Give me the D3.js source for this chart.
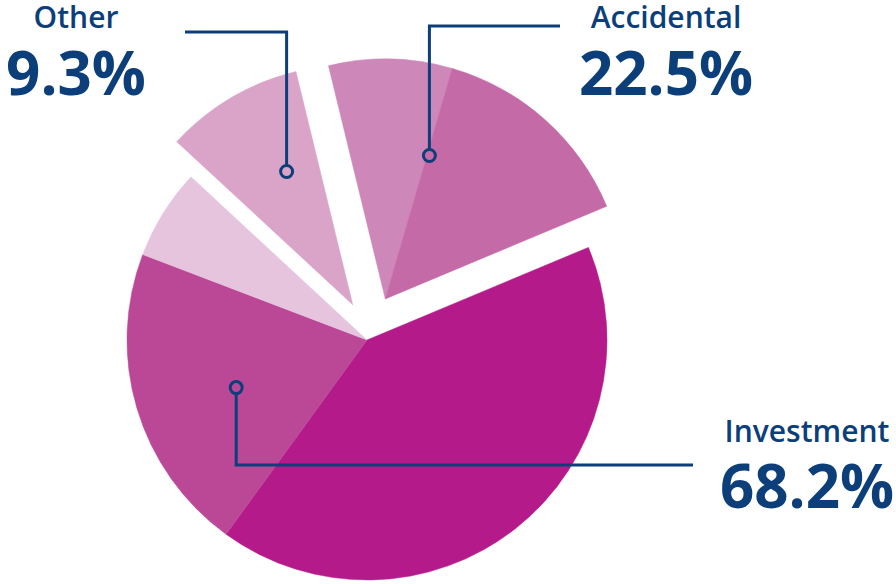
<!DOCTYPE html>
<html>
<head>
<meta charset="utf-8">
<script src="https://cdn.jsdelivr.net/npm/d3@7"></script>
<style>
  html, body { margin: 0; padding: 0; background: #ffffff; }
  svg { display: block; }
</style>
</head>
<body>
<svg id="chart" width="896" height="584"></svg>
<script>
// ---- data ----
const sliceNames  = ["Accidental A", "Accidental B", "Investment A", "Investment B", "Investment C", "Other"];
const sliceGroups = ["Accidental", "Accidental", "Investment", "Investment", "Investment", "Other"];
const sliceValues = [8.3, 14.2, 41.3, 20.8, 6.1, 9.3];
const groupNames  = ["Other", "Accidental", "Investment"];
const groupLabels = ["9.3%", "22.5%", "68.2%"];

// ---- style / layout ----
const W = 896, H = 584;
const cx = 367, cy = 340, R = 240;
const colors = ["#ce87b9", "#c46aa6", "#b51a8a", "#bb4897", "#e7c4de", "#d9a4c8"];
const navy = "#0c3f7a";
const startDeg = -13.7;
const explode = { Other: { angle: 338, dist: 38 }, Accidental: { angle: 24, dist: 45 }, Investment: { angle: 0, dist: 0 } };
// leader anchor (angle deg, radius fraction) relative to group's own center; slice index under the dot
const anchors = {
  Other:      { angle: 333.6, r: 0.62,  slice: 5, elbowY: 32,  endX: 185, textX: 76,  nameY: 28,  pctY: 95 },
  Accidental: { angle: 17.1,  r: 0.625, slice: 1, elbowY: 26,  endX: 560, textX: 666, nameY: 28,  pctY: 95 },
  Investment: { angle: 250,   r: 0.58,  slice: 3, elbowY: 465, endX: 693, textX: 807, nameY: 442, pctY: 508 }
};

const svg = d3.select("#chart");
const rad = d => d * Math.PI / 180;
function offset(g) {
  const e = explode[g];
  return [e.dist * Math.sin(rad(e.angle)), -e.dist * Math.cos(rad(e.angle))];
}

const pie = d3.pie().sort(null).value(d => d.v)
  .startAngle(rad(startDeg)).endAngle(rad(startDeg) + 2 * Math.PI);
const data = sliceValues.map((v, i) => ({ v, name: sliceNames[i], group: sliceGroups[i], color: colors[i] }));
const arcs = pie(data);
const arc = d3.arc().innerRadius(0).outerRadius(R);

svg.append("g").selectAll("path").data(arcs).join("path")
  .attr("transform", d => { const o = offset(d.data.group); return `translate(${cx + o[0]},${cy + o[1]})`; })
  .attr("d", arc)
  .attr("fill", d => d.data.color)
  .attr("stroke", d => d.data.color)
  .attr("stroke-width", 0.5);

// leaders and labels
const lg = svg.append("g");
groupNames.forEach((g, i) => {
  const a = anchors[g];
  const o = offset(g);
  const px = cx + o[0] + a.r * R * Math.sin(rad(a.angle));
  const py = cy + o[1] - a.r * R * Math.cos(rad(a.angle));
  lg.append("path")
    .attr("d", `M${a.endX},${a.elbowY} H${px} V${py}`)
    .attr("fill", "none").attr("stroke", navy).attr("stroke-width", 3);
  lg.append("circle").attr("cx", px).attr("cy", py).attr("r", 6)
    .attr("fill", colors[a.slice])
    .attr("stroke", navy).attr("stroke-width", 3);
  lg.append("text").attr("x", a.textX).attr("y", a.nameY)
    .attr("text-anchor", "middle")
    .attr("font-family", "'Open Sans', sans-serif").attr("font-weight", 600)
    .attr("font-size", 30).attr("fill", navy).text(g);
  lg.append("text").attr("x", a.textX).attr("y", a.pctY)
    .attr("text-anchor", "middle")
    .attr("font-family", "'Open Sans', sans-serif").attr("font-weight", 700)
    .attr("font-size", 60).attr("fill", navy).text(groupLabels[i]);
});
</script>
</body>
</html>
